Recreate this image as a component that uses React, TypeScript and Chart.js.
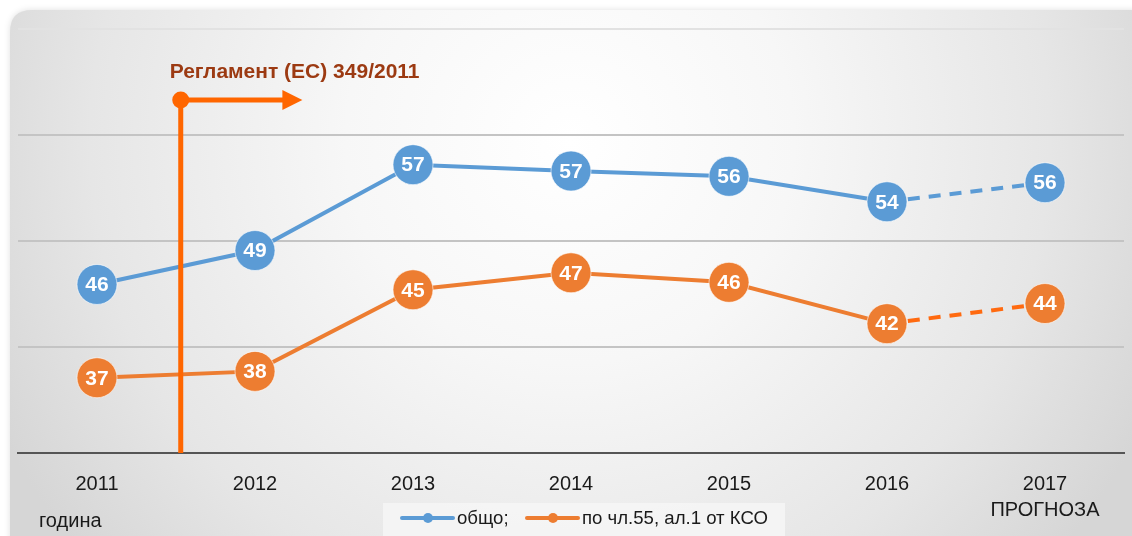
import React, { useEffect, useRef } from "react";
import { Chart, registerables } from "chart.js";
Chart.register(...registerables);

const years: (string | string[])[] = ["2011", "2012", "2013", "2014", "2015", "2016", ["2017", "ПРОГНОЗА"]];
const totalValues = [45.9, 49.1, 57.2, 56.6, 56.1, 53.7, 55.5];
const art55Values = [37.1, 37.7, 45.4, 47.0, 46.1, 42.2, 44.1];
const totalLabels = ["46", "49", "57", "57", "56", "54", "56"];
const art55Labels = ["37", "38", "45", "47", "46", "42", "44"];
const seriesNames = ["общо;", "по чл.55, ал.1 от КСО"];
const yMin = 30;
const yMax = 70;
const yStep = 10;
const annotationText = "Регламент (ЕС) 349/2011";
const xAxisTitle = "година";

const BLUE = "#5B9BD5";
const ORANGE = "#ED7D31";
const FORECAST_ORANGE = "#FF6A10";
const RULE_ORANGE = "#FF6600";
const FONT = "'Liberation Sans', Arial, sans-serif";

const pointLabels = [totalLabels, art55Labels];

const backgroundPlugin = {
  id: "bgPanel",
  beforeDraw(chart: any) {
    const ctx = chart.ctx;
    const w = chart.width;
    const h = chart.height;
    ctx.save();
    ctx.fillStyle = "#ffffff";
    ctx.fillRect(0, 0, w, h);
    const x0 = 10, y0 = 10, rw = w + 20, rh = h + 20, r = 22;
    ctx.beginPath();
    ctx.moveTo(x0 + r, y0);
    ctx.lineTo(x0 + rw, y0);
    ctx.lineTo(x0 + rw, y0 + rh);
    ctx.lineTo(x0, y0 + rh);
    ctx.lineTo(x0, y0 + r);
    ctx.quadraticCurveTo(x0, y0, x0 + r, y0);
    ctx.closePath();
    const g = ctx.createRadialGradient(570, 140, 0, 570, 140, 640);
    g.addColorStop(0, "#ffffff");
    g.addColorStop(0.35, "#f7f7f7");
    g.addColorStop(0.75, "#e6e6e6");
    g.addColorStop(1, "#d6d6d6");
    ctx.shadowColor = "rgba(0,0,0,0.12)";
    ctx.shadowBlur = 6;
    ctx.fillStyle = g;
    ctx.fill();
    ctx.restore();
  },
};

const annotationPlugin = {
  id: "rule349",
  afterDatasetsDraw(chart: any) {
    const ctx = chart.ctx;
    const xs = chart.scales.x;
    const ys = chart.scales.y;
    const step = xs.getPixelForValue(1) - xs.getPixelForValue(0);
    const lx = xs.getPixelForValue(0) + step * 0.53;
    const topY = ys.getPixelForValue(63.3);
    const botY = chart.chartArea.bottom;
    const arrowEnd = xs.getPixelForValue(0) + step * 1.3;
    ctx.save();
    ctx.strokeStyle = RULE_ORANGE;
    ctx.fillStyle = RULE_ORANGE;
    ctx.lineWidth = 5;
    ctx.beginPath();
    ctx.moveTo(lx, botY);
    ctx.lineTo(lx, topY);
    ctx.lineTo(arrowEnd - 18, topY);
    ctx.stroke();
    ctx.beginPath();
    ctx.moveTo(arrowEnd - 20, topY - 10);
    ctx.lineTo(arrowEnd, topY);
    ctx.lineTo(arrowEnd - 20, topY + 10);
    ctx.closePath();
    ctx.fill();
    ctx.beginPath();
    ctx.arc(lx, topY, 8.5, 0, Math.PI * 2);
    ctx.fill();
    ctx.fillStyle = "#9C3A12";
    ctx.font = `bold 21px ${FONT}`;
    ctx.textBaseline = "middle";
    ctx.textAlign = "left";
    ctx.fillText(annotationText, xs.getPixelForValue(0) + step * 0.46, ys.getPixelForValue(65.95));
    ctx.restore();
  },
};

const labelsPlugin = {
  id: "circleLabels",
  afterDatasetsDraw(chart: any) {
    const ctx = chart.ctx;
    ctx.save();
    ctx.fillStyle = "#ffffff";
    ctx.font = `bold 21px ${FONT}`;
    ctx.textAlign = "center";
    ctx.textBaseline = "middle";
    chart.data.datasets.forEach((_d: any, di: number) => {
      const meta = chart.getDatasetMeta(di);
      meta.data.forEach((pt: any, i: number) => {
        ctx.fillText(pointLabels[di][i], pt.x, pt.y + 1);
      });
    });
    ctx.restore();
  },
};

const legendPlugin = {
  id: "customLegend",
  afterDraw(chart: any) {
    const ctx = chart.ctx;
    ctx.save();
    ctx.fillStyle = "#1a1a1a";
    ctx.font = `20px ${FONT}`;
    ctx.textBaseline = "middle";
    ctx.textAlign = "left";
    ctx.fillText(xAxisTitle, 39, 521);
    ctx.fillStyle = "rgba(245,245,245,0.9)";
    ctx.fillRect(383, 503, 402, 40);
    const cy = 518;
    const items = [
      { x: 402, color: BLUE, text: seriesNames[0] },
      { x: 527, color: ORANGE, text: seriesNames[1] },
    ];
    items.forEach((it) => {
      ctx.strokeStyle = it.color;
      ctx.fillStyle = it.color;
      ctx.lineWidth = 4;
      ctx.lineCap = "round";
      ctx.beginPath();
      ctx.moveTo(it.x, cy);
      ctx.lineTo(it.x + 51, cy);
      ctx.stroke();
      ctx.beginPath();
      ctx.arc(it.x + 26, cy, 5, 0, Math.PI * 2);
      ctx.fill();
      ctx.fillStyle = "#1a1a1a";
      ctx.font = `18.6px ${FONT}`;
      ctx.fillText(it.text, it.x + 55, cy + 1);
    });
    ctx.restore();
  },
};

export default function App() {
  const ref = useRef<HTMLCanvasElement | null>(null);
  useEffect(() => {
    if (!ref.current) return;
    const dashSeg = (color: string) => ({
      borderDash: (c: any) => (c.p0DataIndex === 5 ? [12, 9] : undefined),
      borderColor: (c: any) => (c.p0DataIndex === 5 ? color : undefined),
    });
    const chart = new Chart(ref.current, {
      type: "line",
      data: {
        labels: years as any,
        datasets: [
          {
            label: seriesNames[0],
            data: totalValues,
            borderColor: BLUE,
            backgroundColor: BLUE,
            borderWidth: 4,
            pointRadius: 20,
            pointHoverRadius: 20,
            pointBackgroundColor: BLUE,
            pointBorderColor: "rgba(255,255,255,0.6)",
            pointBorderWidth: 1,
            tension: 0,
            clip: false as any,
            segment: dashSeg("#5B9BD5") as any,
          },
          {
            label: seriesNames[1],
            data: art55Values,
            borderColor: ORANGE,
            backgroundColor: ORANGE,
            borderWidth: 4,
            pointRadius: 20,
            pointHoverRadius: 20,
            pointBackgroundColor: ORANGE,
            pointBorderColor: "rgba(255,255,255,0.6)",
            pointBorderWidth: 1,
            tension: 0,
            clip: false as any,
            segment: dashSeg(FORECAST_ORANGE) as any,
          },
        ],
      },
      options: {
        responsive: false,
        animation: false,
        events: [],
        layout: { autoPadding: false, padding: { left: 18, right: 8, top: 29, bottom: 0 } },
        plugins: { legend: { display: false }, tooltip: { enabled: false } },
        scales: {
          x: {
            offset: true,
            grid: { display: false, drawTicks: false },
            border: { display: true, color: "#555555", width: 2 },
            ticks: {
              color: "#1a1a1a",
              font: { family: FONT, size: 20, lineHeight: 1.3 },
              padding: 18,
              maxRotation: 0,
              autoSkip: false,
            },
            afterFit: (s: any) => {
              s.height = 83;
              s.paddingLeft = 0;
              s.paddingRight = 0;
            },
          },
          y: {
            min: yMin,
            max: yMax,
            ticks: { display: false, stepSize: yStep },
            border: { display: false },
            grid: {
              drawTicks: false,
              lineWidth: 2,
              color: (c: any) => (c.tick && c.tick.value === yMax ? "#e2e2e2" : c.tick && c.tick.value === yMin ? "#555555" : "#c4c4c4"),
            },
            afterFit: (s: any) => {
              s.width = 0;
              s.paddingTop = 0;
              s.paddingBottom = 0;
            },
          },
        },
      },
      plugins: [backgroundPlugin, annotationPlugin, labelsPlugin, legendPlugin],
    });
    return () => chart.destroy();
  }, []);
  return (
    <div style={{ position: "absolute", left: 0, top: 0, width: 1132, height: 536 }}>
      <canvas ref={ref} width={1132} height={536} />
    </div>
  );
}
